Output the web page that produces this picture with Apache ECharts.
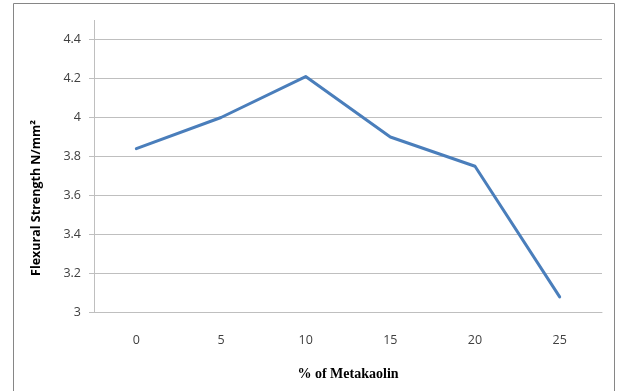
<!DOCTYPE html>
<html>
<head>
<meta charset="utf-8">
<script src="https://cdn.jsdelivr.net/npm/echarts@6/dist/echarts.min.js"></script>
<style>
  html, body { margin: 0; padding: 0; background: #fff; }
  #chart { width: 622px; height: 391px; }
</style>
</head>
<body>
<div id="chart"></div>
<script>
// Metakaolin replacement levels (%) and measured flexural strength
const metakaolin = ['0', '5', '10', '15', '20', '25'];
const flexuralStrength = [3.84, 4.0, 4.21, 3.9, 3.75, 3.08];
const yTicks = { min: 3, max: 4.4, step: 0.2 };

const chart = echarts.init(document.getElementById('chart'), null, { renderer: 'canvas' });

const gridBox = { left: 94, right: 20, top: 39.5, bottom: 78.5 };

chart.setOption({
  animation: false,
  backgroundColor: '#ffffff',
  grid: gridBox,
  xAxis: {
    type: 'category',
    data: metakaolin,
    boundaryGap: true,
    axisLine: { lineStyle: { color: '#bfbfbf', width: 1 } },
    axisTick: { show: false },
    axisLabel: {
      color: '#404040',
      fontFamily: 'Open Sans, Liberation Sans, sans-serif',
      fontSize: 12.5,
      margin: 21
    },
    splitLine: { show: false },
    name: '% of Metakaolin',
    nameLocation: 'middle',
    nameGap: 55,
    nameTextStyle: {
      color: '#000',
      fontFamily: 'Liberation Serif, Times New Roman, serif',
      fontWeight: 'bold',
      fontSize: 14
    }
  },
  yAxis: {
    type: 'value',
    min: yTicks.min,
    max: yTicks.max,
    interval: yTicks.step,
    axisLine: { show: true, lineStyle: { color: '#bfbfbf', width: 1 } },
    axisTick: { show: true, length: 5, lineStyle: { color: '#bfbfbf' } },
    axisLabel: {
      color: '#404040',
      fontFamily: 'Open Sans, Liberation Sans, sans-serif',
      fontSize: 12.5,
      margin: 13,
      formatter: v => String(+v.toFixed(1))
    },
    splitLine: { show: true, lineStyle: { color: '#bfbfbf', width: 1 } }
  },
  series: [{
    type: 'line',
    data: flexuralStrength,
    showSymbol: false,
    symbol: 'none',
    lineStyle: { color: '#4a7ebb', width: 3, cap: 'round', join: 'round' },
    itemStyle: { color: '#4a7ebb' }
  }],
  graphic: [
    {
      // chart area frame
      type: 'rect',
      shape: { x: 13.5, y: 3.5, width: 601, height: 420 },
      style: { fill: 'none', stroke: '#868686', lineWidth: 1 },
      z: 0
    },
    {
      // value axis continues above the top gridline
      type: 'line',
      shape: { x1: 94.5, y1: 20, x2: 94.5, y2: 40 },
      style: { stroke: '#bfbfbf', lineWidth: 1 }
    },
    {
      type: 'text',
      x: 36,
      y: 198,
      rotation: Math.PI / 2,
      style: {
        text: 'Flexural Strength N/mm²',
        fill: '#000',
        font: 'bold 12.5px "Open Sans", "Liberation Sans", sans-serif',
        textAlign: 'center',
        textVerticalAlign: 'middle'
      }
    }
  ]
});
</script>
</body>
</html>
